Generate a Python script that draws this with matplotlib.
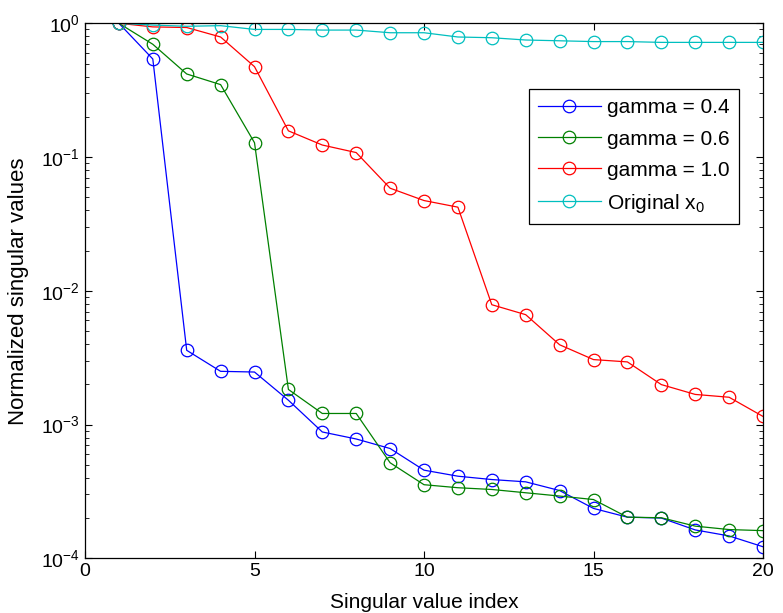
import matplotlib
matplotlib.use("Agg")
import matplotlib.pyplot as plt
from matplotlib.ticker import LogLocator, FixedLocator, NullFormatter

plt.rcParams['font.family'] = ['Liberation Sans', 'DejaVu Sans']
plt.rcParams['mathtext.fontset'] = 'custom'
plt.rcParams['mathtext.rm'] = 'Liberation Sans'
plt.rcParams['mathtext.it'] = 'Liberation Sans'
plt.rcParams['mathtext.default'] = 'regular'

index = list(range(1, 21))
gamma_04 = [1.0, 0.541, 0.00359, 0.0025, 0.00247, 0.00152, 0.00088, 0.00078, 0.000662, 0.000456,
            0.000411, 0.000388, 0.000373, 0.000321, 0.000236, 0.000203, 0.0002, 0.000163, 0.000147, 0.000122]
gamma_06 = [1.0, 0.697, 0.418, 0.348, 0.128, 0.00183, 0.00121, 0.00121, 0.000518, 0.000355,
            0.000337, 0.000327, 0.000309, 0.000292, 0.000275, 0.000203, 0.000201, 0.000174, 0.000164, 0.000161]
gamma_10 = [1.0, 0.94, 0.93, 0.79, 0.474, 0.157, 0.123, 0.108, 0.0585, 0.0473,
            0.0422, 0.00787, 0.00663, 0.00395, 0.00306, 0.00294, 0.00199, 0.00168, 0.0016, 0.00115]
original = [1.0, 0.97, 0.95, 0.96, 0.90, 0.90, 0.89, 0.89, 0.85, 0.85,
            0.79, 0.78, 0.75, 0.74, 0.73, 0.73, 0.72, 0.72, 0.72, 0.72]

series = [
    ("gamma = 0.4", gamma_04, (0, 0, 1)),
    ("gamma = 0.6", gamma_06, (0, 0.5, 0)),
    ("gamma = 1.0", gamma_10, (1, 0, 0)),
    ("Original x$_0$", original, (0, 0.75, 0.75)),
]

fig = plt.figure(figsize=(7.83, 6.13), dpi=100)
ax = fig.add_axes([85/783, 1 - 558.3/613, (763 - 85)/783, (558.3 - 23.3)/613])

for label, vals, color in series:
    ax.semilogy(index, vals, '-o', color=color, mfc='none', mec=color,
                markersize=9, lw=0.9, mew=0.9, label=label)

ax.set_xlim(0, 20)
ax.set_ylim(1e-4, 1)
ax.xaxis.set_major_locator(FixedLocator([0, 5, 10, 15, 20]))
ax.yaxis.set_major_locator(LogLocator(base=10, numticks=10))
ax.yaxis.set_minor_locator(LogLocator(base=10, subs=range(2, 10), numticks=10))
ax.yaxis.set_minor_formatter(NullFormatter())
ax.tick_params(which='both', direction='in', top=True, right=True, labelsize=14)
ax.tick_params(which='major', length=5, width=0.8)
ax.tick_params(which='minor', length=3, width=0.6)
for s in ax.spines.values():
    s.set_linewidth(0.9)

ax.set_xlabel("Singular value index", fontsize=15)
ax.set_ylabel("Normalized singular values", fontsize=16)
ax.xaxis.set_label_coords(0.5, -0.064)
ax.yaxis.set_label_coords(-0.083, 0.5)

leg = ax.legend(loc='upper right', bbox_to_anchor=(0.9646, 0.877), borderaxespad=0,
                fontsize=15, fancybox=False, edgecolor='black', framealpha=1,
                handlelength=3.0, borderpad=0.45, labelspacing=0.58, handletextpad=0.3)
leg.get_frame().set_linewidth(0.9)

fig.savefig("out.png", dpi=100)
